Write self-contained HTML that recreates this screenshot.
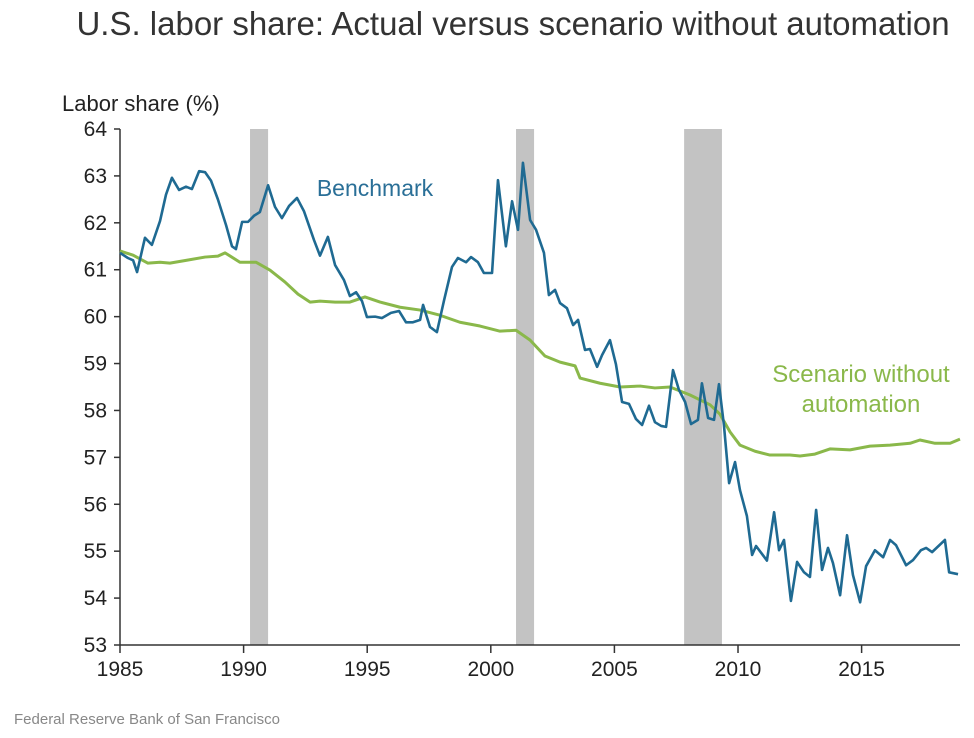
<!DOCTYPE html>
<html><head><meta charset="utf-8"><style>
body{margin:0;background:#fff;}
svg text{font-family:"Liberation Sans",sans-serif;}
</style></head><body>
<svg id="chart" width="974" height="733" xmlns="http://www.w3.org/2000/svg">
<text x="513" y="35" text-anchor="middle" font-size="33" fill="#333">U.S. labor share: Actual versus scenario without automation</text>
<text x="62" y="111" font-size="22" fill="#222">Labor share (%)</text>
<g id="recessions"></g><g id="axes"></g><g id="series"></g>
<text x="375" y="196" text-anchor="middle" font-size="23" fill="#2a6f97">Benchmark</text>
<text x="861" y="382" text-anchor="middle" font-size="24" fill="#8ab84a">Scenario without</text>
<text x="861" y="412" text-anchor="middle" font-size="24" fill="#8ab84a">automation</text>
<text x="14" y="724" font-size="15" fill="#888">Federal Reserve Bank of San Francisco</text>
</svg>
<script>
const xTicks=[1985,1990,1995,2000,2005,2010,2015];
const yTicks=[53,54,55,56,57,58,59,60,61,62,63,64];
const recessionStart=[1990.26,2001.02,2007.82];
const recessionEnd=[1990.99,2001.75,2009.35];
const benchYears=[1985.00,1985.32,1985.53,1985.69,1986.01,1986.29,1986.62,1986.86,1987.10,1987.39,1987.67,1987.91,1988.20,1988.44,1988.68,1988.96,1989.29,1989.53,1989.69,1989.94,1990.18,1990.42,1990.66,1990.99,1991.27,1991.55,1991.84,1992.16,1992.44,1992.85,1993.09,1993.41,1993.70,1994.06,1994.30,1994.55,1994.79,1994.99,1995.32,1995.60,1995.96,1996.29,1996.57,1996.85,1997.14,1997.26,1997.54,1997.82,1998.11,1998.43,1998.67,1999.00,1999.20,1999.48,1999.72,2000.05,2000.29,2000.61,2000.86,2001.10,2001.30,2001.59,2001.83,2002.15,2002.35,2002.60,2002.80,2003.08,2003.33,2003.53,2003.81,2004.01,2004.30,2004.50,2004.82,2005.06,2005.31,2005.59,2005.87,2006.12,2006.40,2006.64,2006.89,2007.09,2007.37,2007.61,2007.86,2008.10,2008.38,2008.54,2008.79,2009.03,2009.23,2009.43,2009.64,2009.88,2010.08,2010.36,2010.57,2010.73,2011.17,2011.46,2011.66,2011.86,2012.14,2012.39,2012.67,2012.91,2013.16,2013.40,2013.64,2013.84,2014.13,2014.41,2014.65,2014.94,2015.18,2015.54,2015.87,2016.15,2016.39,2016.80,2017.08,2017.40,2017.61,2017.85,2018.37,2018.54,2018.90];
const benchValues=[61.36,61.25,61.2,60.95,61.68,61.53,62.04,62.6,62.96,62.7,62.77,62.72,63.1,63.08,62.9,62.5,61.95,61.5,61.44,62.02,62.02,62.15,62.23,62.8,62.34,62.1,62.36,62.53,62.25,61.63,61.3,61.7,61.1,60.78,60.44,60.52,60.33,59.99,60.0,59.97,60.08,60.12,59.88,59.88,59.93,60.25,59.78,59.67,60.35,61.06,61.25,61.16,61.27,61.16,60.93,60.93,62.91,61.5,62.46,61.85,63.28,62.06,61.85,61.36,60.46,60.57,60.29,60.18,59.82,59.93,59.29,59.31,58.93,59.18,59.5,58.99,58.18,58.14,57.82,57.69,58.1,57.75,57.67,57.65,58.86,58.44,58.18,57.71,57.8,58.58,57.84,57.8,58.56,57.69,56.45,56.9,56.3,55.75,54.92,55.11,54.8,55.83,55.02,55.24,53.94,54.77,54.55,54.45,55.88,54.6,55.07,54.75,54.06,55.34,54.49,53.91,54.68,55.02,54.87,55.24,55.13,54.7,54.81,55.02,55.07,54.98,55.24,54.55,54.51];
const scenYears=[1985.00,1985.53,1986.13,1986.62,1987.02,1987.67,1988.44,1988.96,1989.25,1989.85,1990.50,1991.07,1991.67,1992.20,1992.69,1993.09,1993.70,1994.30,1994.91,1995.52,1996.33,1997.14,1997.94,1998.75,1999.56,2000.37,2001.02,2001.59,2002.19,2002.80,2003.41,2003.61,2004.42,2005.23,2006.04,2006.64,2007.25,2008.06,2008.87,2009.27,2009.68,2010.08,2010.69,2011.29,2012.10,2012.51,2013.11,2013.72,2014.53,2015.34,2016.15,2016.96,2017.36,2017.97,2018.58,2018.98];
const scenValues=[61.4,61.31,61.14,61.16,61.14,61.2,61.27,61.29,61.36,61.16,61.16,60.99,60.74,60.48,60.31,60.33,60.31,60.31,60.42,60.31,60.2,60.14,60.03,59.88,59.8,59.69,59.71,59.5,59.16,59.03,58.95,58.69,58.58,58.5,58.52,58.48,58.5,58.33,58.12,57.92,57.54,57.26,57.13,57.05,57.05,57.03,57.07,57.18,57.16,57.24,57.26,57.3,57.37,57.3,57.3,57.39];
const NS='http://www.w3.org/2000/svg';
const X0=120,X1=960,Y0=645,Y1=129;
const xs=v=>X0+(v-1985)/(2018.98-1985)*(X1-X0);
const ys=v=>Y0-(v-53)/(64-53)*(Y0-Y1);
function mk(tag,attrs,parent){const e=document.createElementNS(NS,tag);for(const k in attrs)e.setAttribute(k,attrs[k]);document.getElementById(parent).appendChild(e);return e;}
recessionStart.forEach((s,i)=>{
 const r=mk('rect',{x:xs(s),y:Y1,width:xs(recessionEnd[i])-xs(s),height:Y0-Y1,fill:'#c3c3c3'},'recessions');
 
 
});
const ya=mk('line',{x1:X0,y1:Y1,x2:X0,y2:Y0,stroke:'#333','stroke-width':1.5},'axes');


const xa=mk('line',{x1:X0,y1:Y0,x2:X1,y2:Y0,stroke:'#333','stroke-width':1.5},'axes');


yTicks.forEach(v=>{
 mk('line',{x1:X0-6,y1:ys(v),x2:X0,y2:ys(v),stroke:'#333','stroke-width':1.5},'axes');
 const t=mk('text',{x:X0-13,y:ys(v)+7,'text-anchor':'end','font-size':21,fill:'#222'},'axes');
 t.textContent=v;
 
 
});
xTicks.forEach(v=>{
 mk('line',{x1:xs(v),y1:Y0,x2:xs(v),y2:Y0+8,stroke:'#333','stroke-width':1.5},'axes');
 const t=mk('text',{x:xs(v),y:Y0+31,'text-anchor':'middle','font-size':21,fill:'#222'},'axes');
 t.textContent=v;
 
 
});
const sp=mk('polyline',{points:scenYears.map((y,i)=>xs(y)+','+ys(scenValues[i])).join(' '),fill:'none',stroke:'#8ab84a','stroke-width':3,'stroke-linejoin':'round'},'series');


const bp=mk('polyline',{points:benchYears.map((y,i)=>xs(y)+','+ys(benchValues[i])).join(' '),fill:'none',stroke:'#1f6a92','stroke-width':2.6,'stroke-linejoin':'round'},'series');


</script>
</body></html>
